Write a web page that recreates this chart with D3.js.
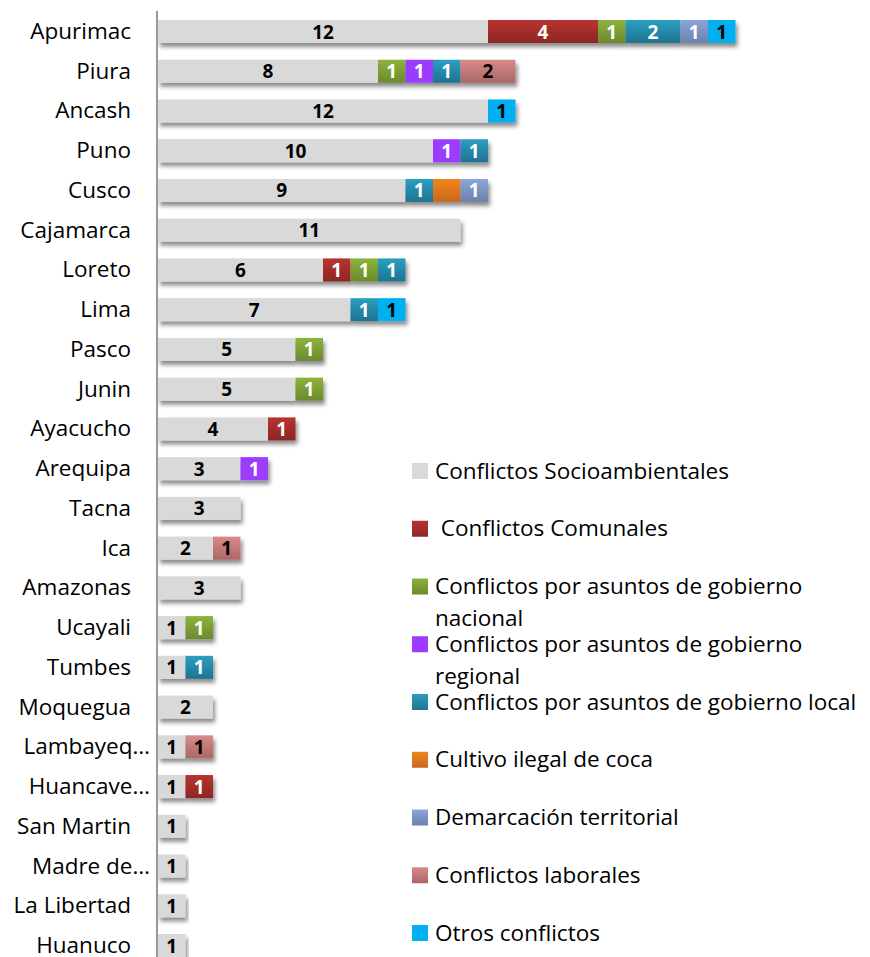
<!DOCTYPE html>
<html>
<head>
<meta charset="utf-8">
<script src="https://cdn.jsdelivr.net/npm/d3@7"></script>
<style>
  body { margin: 0; background: #fff; }
  svg { display: block; }
  text { font-family: "Open Sans", Lato, sans-serif; }
</style>
</head>
<body>
<svg id="chart" width="870" height="957"></svg>
<script>
// ---------- DATA ----------
const regions = ["Apurimac","Piura","Ancash","Puno","Cusco","Cajamarca","Loreto","Lima","Pasco","Junin",
  "Ayacucho","Arequipa","Tacna","Ica","Amazonas","Ucayali","Tumbes","Moquegua","Lambayeq…","Huancave…",
  "San Martin","Madre de…","La Libertad","Huanuco"];

const seriesNames = ["Conflictos Socioambientales"," Conflictos Comunales",
  "Conflictos por asuntos de gobierno nacional","Conflictos por asuntos de gobierno regional",
  "Conflictos por asuntos de gobierno local","Cultivo ilegal de coca","Demarcación territorial",
  "Conflictos laborales","Otros conflictos"];

const socioambientales = [12,8,12,10,9,11,6,7,5,5,4,3,3,2,3,1,1,2,1,1,1,1,1,1];
const comunales        = [4,0,0,0,0,0,1,0,0,0,1,0,0,0,0,0,0,0,0,1,0,0,0,0];
const gobNacional      = [1,1,0,0,0,0,1,0,1,1,0,0,0,0,0,1,0,0,0,0,0,0,0,0];
const gobRegional      = [0,1,0,1,0,0,0,0,0,0,0,1,0,0,0,0,0,0,0,0,0,0,0,0];
const gobLocal         = [2,1,0,1,1,0,1,1,0,0,0,0,0,0,0,0,1,0,0,0,0,0,0,0];
const cultivoCoca      = [0,0,0,0,1,0,0,0,0,0,0,0,0,0,0,0,0,0,0,0,0,0,0,0];
const demarcacion      = [1,0,0,0,1,0,0,0,0,0,0,0,0,0,0,0,0,0,0,0,0,0,0,0];
const laborales        = [0,2,0,0,0,0,0,0,0,0,0,0,0,1,0,0,0,0,1,0,0,0,0,0];
const otros            = [1,0,1,0,0,0,0,1,0,0,0,0,0,0,0,0,0,0,0,0,0,0,0,0];

const seriesValues = [socioambientales, comunales, gobNacional, gobRegional, gobLocal,
  cultivoCoca, demarcacion, laborales, otros];

// ---------- STYLE ----------
const colorTop    = ["#d9d9d9","#b9332f","#8db33c","#9b3cff","#2b9fc1","#f2841f","#8aa5d9","#da8a89","#00b0f0"];
const colorBottom = ["#d9d9d9","#8c2724","#6b8a2c","#9b3cff","#1e7391","#c9681a","#6d82ad","#aa6766","#00b0f0"];
const labelColor  = ["#000","#fff","#fff","#fff","#fff",null,"#fff","#000","#000"];

const svg = d3.select("#chart");
const defs = svg.append("defs");

seriesNames.forEach((s, i) => {
  const g = defs.append("linearGradient").attr("id", "grad" + i)
    .attr("x1", 0).attr("y1", 0).attr("x2", 0).attr("y2", 1);
  g.append("stop").attr("offset", "0%").attr("stop-color", colorTop[i]);
  g.append("stop").attr("offset", "100%").attr("stop-color", colorBottom[i]);
});

const f = defs.append("filter").attr("id", "shadow")
  .attr("x", "-5%").attr("y", "-30%").attr("width", "115%").attr("height", "190%");
f.append("feDropShadow").attr("dx", 2).attr("dy", 4).attr("stdDeviation", 2)
  .attr("flood-color", "#000").attr("flood-opacity", 0.45);

// ---------- SCALES ----------
const x = d3.scaleLinear().domain([0, 21]).range([158, 158 + 21 * 27.5]);
const y = d3.scalePoint().domain(regions).range([31.5, 945.5]);
const barH = 23;

const table = regions.map((r, i) => {
  const o = { region: r };
  seriesNames.forEach((s, k) => o[k] = seriesValues[k][i]);
  return o;
});
const stack = d3.stack().keys(d3.range(seriesNames.length))(table);

// ---------- BARS ----------
const rows = svg.append("g").selectAll("g.row").data(regions).join("g")
  .attr("class", "row").attr("filter", "url(#shadow)");

rows.each(function(r, i) {
  const g = d3.select(this);
  stack.forEach((layer, k) => {
    const d = layer[i];
    if (d[1] - d[0] <= 0) return;
    g.append("rect")
      .attr("x", x(d[0]))
      .attr("y", y(r) - barH / 2)
      .attr("width", x(d[1]) - x(d[0]))
      .attr("height", barH)
      .attr("fill", `url(#grad${k})`);
  });
});

const labG = svg.append("g");
regions.forEach((r, i) => {
  stack.forEach((layer, k) => {
    const d = layer[i];
    const v = d[1] - d[0];
    if (v <= 0 || !labelColor[k]) return;
    labG.append("text")
      .attr("x", (x(d[0]) + x(d[1])) / 2)
      .attr("y", y(r) + 7)
      .attr("text-anchor", "middle")
      .attr("font-weight", "bold")
      .attr("font-size", 19)
      .attr("fill", labelColor[k])
      .text(v);
  });
});

// ---------- AXIS ----------
const yAxis = d3.axisLeft(y).tickSize(0).tickPadding(26);
const ax = svg.append("g").attr("transform", "translate(157,0)").call(yAxis);
ax.select(".domain").remove();
ax.selectAll("text").attr("font-size", 22.5).attr("fill", "#000")
  .attr("font-family", "'Open Sans', Lato, sans-serif").attr("dy", "0.31em")
  .attr("dx", d => d.endsWith("…") ? 19 : 0);
svg.append("line").attr("x1", 157).attr("x2", 157).attr("y1", 11).attr("y2", 957)
  .attr("stroke", "#999").attr("stroke-width", 2);

// ---------- LEGEND ----------
const legend = svg.append("g");
const maxW = 435;
seriesNames.forEach((s, i) => {
  const cy = 471 + i * 57.75;
  legend.append("rect").attr("x", 412).attr("y", cy - 8).attr("width", 16).attr("height", 16)
    .attr("fill", `url(#grad${i})`);
  const t = legend.append("text").attr("x", 435).attr("y", cy + 7.5)
    .attr("font-size", 22.5).attr("fill", "#000").style("white-space", "pre");
  const words = s.split(" ");
  let line = [], tspan = t.append("tspan").attr("x", 435).attr("dy", 0);
  words.forEach((w) => {
    line.push(w);
    tspan.text(line.join(" "));
    if (tspan.node().getComputedTextLength() > maxW && line.length > 1) {
      line.pop();
      tspan.text(line.join(" "));
      line = [w];
      tspan = t.append("tspan").attr("x", 435).attr("dy", 32).text(w);
    }
  });
});
</script>
</body>
</html>
